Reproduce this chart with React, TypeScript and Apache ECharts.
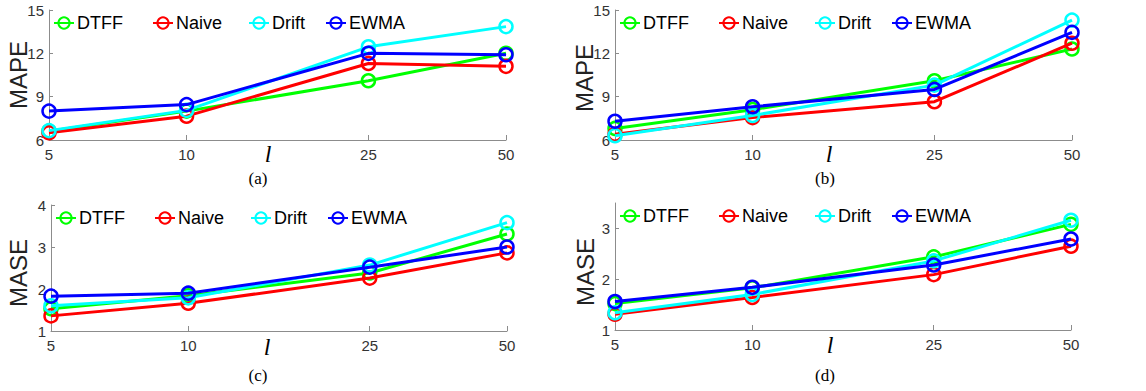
import React, { useEffect, useRef } from "react";
import * as echarts from "echarts";

const lValues = [5, 10, 25, 50];
const seriesNames = ["DTFF", "Naive", "Drift", "EWMA"];
const seriesColors = ["#00ff00", "#ff0000", "#00ffff", "#0000ff"];

// (a) MAPE
const aDTFF = [6.6, 8.0, 10.1, 12.0];
const aNaive = [6.5, 7.65, 11.3, 11.1];
const aDrift = [6.65, 8.05, 12.45, 13.85];
const aEWMA = [8.0, 8.45, 12.0, 11.9];
// (b) MAPE
const bDTFF = [6.8, 8.1, 10.1, 12.3];
const bNaive = [6.4, 7.55, 8.65, 12.7];
const bDrift = [6.3, 7.7, 9.8, 14.3];
const bEWMA = [7.3, 8.3, 9.5, 13.45];
// (c) MASE
const cDTFF = [1.53, 1.84, 2.38, 3.31];
const cNaive = [1.36, 1.66, 2.26, 2.86];
const cDrift = [1.6, 1.79, 2.57, 3.58];
const cEWMA = [1.83, 1.9, 2.52, 3.0];
// (d) MASE
const dDTFF = [1.52, 1.83, 2.44, 3.08];
const dNaive = [1.31, 1.64, 2.09, 2.65];
const dDrift = [1.34, 1.7, 2.36, 3.16];
const dEWMA = [1.56, 1.84, 2.28, 2.79];

const mapeTickLabels = [6, 9, 12, 15];
const maseTickLabelsC = [1, 2, 3, 4];
const maseTickLabelsD = [1, 2, 3];

const panels = [
  { label: "(a)", yName: "MAPE", data: [aDTFF, aNaive, aDrift, aEWMA], ymin: 6, ymax: 15, yTicks: mapeTickLabels,
    grid: { left: 49, top: 10, width: 457, height: 130 }, lPos: [268, 154], capPos: [258, 178], yNamePos: [18, 75] },
  { label: "(b)", yName: "MAPE", data: [bDTFF, bNaive, bDrift, bEWMA], ymin: 6, ymax: 15, yTicks: mapeTickLabels,
    grid: { left: 615, top: 10, width: 457, height: 130 }, lPos: [829, 154], capPos: [825, 178], yNamePos: [584, 78] },
  { label: "(c)", yName: "MASE", data: [cDTFF, cNaive, cDrift, cEWMA], ymin: 1, ymax: 4, yTicks: maseTickLabelsC,
    grid: { left: 51, top: 205, width: 456, height: 126 }, lPos: [267, 347], capPos: [258, 375], yNamePos: [18, 273] },
  { label: "(d)", yName: "MASE", data: [dDTFF, dNaive, dDrift, dEWMA], ymin: 1, ymax: 3.5, yTicks: maseTickLabelsD,
    grid: { left: 615, top: 203, width: 456, height: 127 }, lPos: [830, 345], capPos: [825, 375], yNamePos: [585, 272] },
];

const legendOffsets = [4, 103, 199, 276];

const SANS = "'Liberation Sans', Arial, Helvetica, sans-serif";
const SERIF = "'Liberation Serif', 'Times New Roman', serif";

export default function App() {
  const ref = useRef<HTMLDivElement>(null);
  useEffect(() => {
    if (!ref.current) return;
    const chart = echarts.init(ref.current, undefined, { renderer: "svg" });
    const grids: any[] = [];
    const xAxes: any[] = [];
    const yAxes: any[] = [];
    const series: any[] = [];
    const legends: any[] = [];
    const graphics: any[] = [];
    panels.forEach((p, pi) => {
      grids.push({ ...p.grid });
      xAxes.push({
        type: "log",
        logBase: 10,
        gridIndex: pi,
        min: 5,
        max: 50,
        axisLine: { show: true, lineStyle: { color: "#8c8c8c", width: 1 } },
        axisTick: { show: true, inside: true, length: 5, customValues: lValues, lineStyle: { color: "#8c8c8c" } },
        axisLabel: { customValues: lValues, fontSize: 15, color: "#333", fontFamily: SANS, margin: 7 },
        splitLine: { show: false },
        minorTick: { show: false },
      });
      yAxes.push({
        type: "value",
        gridIndex: pi,
        min: p.ymin,
        max: p.ymax,
        axisLine: { show: true, lineStyle: { color: "#8c8c8c", width: 1 } },
        axisTick: { show: true, inside: true, length: 4, customValues: p.yTicks, lineStyle: { color: "#8c8c8c" } },
        axisLabel: { customValues: p.yTicks, fontSize: 15, color: "#333", fontFamily: SANS, margin: 5 },
        splitLine: { show: false },
      });
      p.data.forEach((vals, si) => {
        series.push({
          type: "line",
          name: seriesNames[si],
          xAxisIndex: pi,
          yAxisIndex: pi,
          data: lValues.map((l, i) => [l, vals[i]]),
          symbol: "circle",
          symbolSize: 13,
          lineStyle: { color: seriesColors[si], width: 3 },
          itemStyle: { color: "rgba(255,255,255,0)", borderColor: seriesColors[si], borderWidth: 2.5 },
          z: 2 + si,
        });
      });
      seriesNames.forEach((n, si) => {
        legends.push({
          data: [n],
          left: p.grid.left + legendOffsets[si],
          top: p.grid.top + 4,
          padding: 0,
          itemWidth: 20,
          itemHeight: 14,
          itemGap: 0,
          selectedMode: false,
          textStyle: { fontSize: 18, color: "#000", fontFamily: SANS, padding: [0, 0, 0, -2] },
        });
      });
      graphics.push({
        type: "text",
        x: p.lPos[0],
        y: p.lPos[1],
        style: { text: "l", font: `italic 24px ${SERIF}`, fill: "#000", textAlign: "center", textVerticalAlign: "middle" },
      });
      graphics.push({
        type: "text",
        x: p.capPos[0],
        y: p.capPos[1],
        style: { text: p.label, font: `17px ${SERIF}`, fill: "#000", textAlign: "center", textVerticalAlign: "middle" },
      });
      graphics.push({
        type: "text",
        x: p.yNamePos[0],
        y: p.yNamePos[1],
        rotation: Math.PI / 2,
        style: { text: p.yName, font: `24px ${SANS}`, fill: "#222", textAlign: "center", textVerticalAlign: "middle" },
      });
    });
    chart.setOption({
      animation: false,
      backgroundColor: "#fff",
      grid: grids,
      xAxis: xAxes,
      yAxis: yAxes,
      series,
      legend: legends,
      graphic: graphics,
    });
    return () => chart.dispose();
  }, []);
  return <div ref={ref} style={{ position: "fixed", left: 0, top: 0, width: 1146, height: 391 }} />;
}
